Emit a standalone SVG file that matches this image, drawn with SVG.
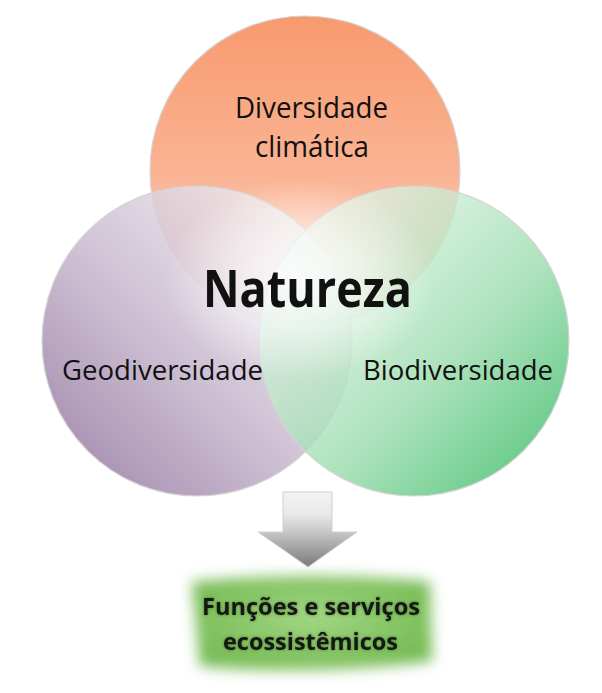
<svg xmlns="http://www.w3.org/2000/svg" width="602" height="693" viewBox="0 0 602 693">
<defs>
<linearGradient id="gTop" x1="0.5" y1="0" x2="0.5" y2="1">
<stop offset="0" stop-color="#F89A6E"/>
<stop offset="0.5" stop-color="#FAB393"/>
<stop offset="1" stop-color="#FCDACB"/>
</linearGradient>
<linearGradient id="gLeft" x1="0.1" y1="0.9" x2="0.85" y2="0.15">
<stop offset="0" stop-color="#9F84AA" stop-opacity="0.92"/>
<stop offset="0.45" stop-color="#C4B4CB" stop-opacity="0.85"/>
<stop offset="1" stop-color="#EEEAEE" stop-opacity="0.85"/>
</linearGradient>
<linearGradient id="gRight" x1="0.9" y1="0.9" x2="0.15" y2="0.15">
<stop offset="0" stop-color="#55C47B" stop-opacity="0.92"/>
<stop offset="0.45" stop-color="#9EDDB0" stop-opacity="0.8"/>
<stop offset="1" stop-color="#E4F5E8" stop-opacity="0.75"/>
</linearGradient>
<radialGradient id="gGlow" cx="0.5" cy="0.5" r="0.5">
<stop offset="0" stop-color="#FFFFFF" stop-opacity="0.85"/>
<stop offset="0.5" stop-color="#FFFFFF" stop-opacity="0.5"/>
<stop offset="1" stop-color="#FFFFFF" stop-opacity="0"/>
</radialGradient>
<linearGradient id="gArrow" x1="0" y1="492" x2="0" y2="567" gradientUnits="userSpaceOnUse">
<stop offset="0" stop-color="#F4F4F4"/>
<stop offset="0.3" stop-color="#E8E8E8"/>
<stop offset="0.55" stop-color="#C4C4C4"/>
<stop offset="1" stop-color="#7A7A7A"/>
</linearGradient>
<radialGradient id="gBox" cx="0.5" cy="0.45" r="0.6">
<stop offset="0" stop-color="#A2D684"/>
<stop offset="1" stop-color="#74BA52"/>
</radialGradient>
<filter id="blur" x="-20%" y="-30%" width="140%" height="160%">
<feGaussianBlur stdDeviation="7"/>
</filter>
<filter id="glow" x="-10%" y="-30%" width="120%" height="160%">
<feGaussianBlur in="SourceAlpha" stdDeviation="1.5" result="b"/>
<feFlood flood-color="#2D5A1A" flood-opacity="0.7"/>
<feComposite in2="b" operator="in" result="s"/>
<feMerge><feMergeNode in="s"/><feMergeNode in="SourceGraphic"/></feMerge>
</filter>
<style>
.c{stroke:#D4D4D4;stroke-width:1.2}
.lbl{font-family:"Open Sans","Noto Sans","DejaVu Sans",sans-serif;fill:#111;text-anchor:middle}
.big{font-weight:bold}
.out{font-family:"Open Sans","Noto Sans","DejaVu Sans",sans-serif;font-weight:bold;fill:#121212;text-anchor:middle;font-size:24px}
</style>
</defs>
<rect width="602" height="693" fill="#FFFFFF"/>
<g id="node-clima">
<circle class="c" cx="305" cy="171" r="155" fill="url(#gTop)"/>
</g>
<g id="node-geo">
<circle class="c" cx="197" cy="341" r="155" fill="url(#gLeft)"/>
</g>
<g id="node-bio">
<circle class="c" cx="414" cy="341" r="155" fill="url(#gRight)"/>
</g>
<g id="node-natureza">
<ellipse cx="300" cy="280" rx="135" ry="100" fill="url(#gGlow)"/>
<text class="lbl big" x="307.5" y="307" font-size="52" textLength="209" lengthAdjust="spacingAndGlyphs">Natureza</text>
</g>
<g id="labels">
<text class="lbl" x="311.5" y="118" font-size="29" textLength="153" lengthAdjust="spacingAndGlyphs">Diversidade</text>
<text class="lbl" x="312" y="157" font-size="29" textLength="114" lengthAdjust="spacingAndGlyphs">climática</text>
<text class="lbl" x="162.5" y="380" font-size="28" textLength="201" lengthAdjust="spacingAndGlyphs">Geodiversidade</text>
<text class="lbl" x="458" y="380" font-size="28" textLength="190" lengthAdjust="spacingAndGlyphs">Biodiversidade</text>
</g>
<g id="connectors">
<polygon points="283,492 332,492 332,532 357,532 308,567 258,532 283,532" fill="url(#gArrow)" stroke="#CFCFCF" stroke-width="1"/>
</g>
<g id="node-funcoes">
<path d="M192,582 Q310,570 430,582 L432,661 Q312,676 200,666 Z" fill="url(#gBox)" filter="url(#blur)"/>
<g filter="url(#glow)">
<text class="out" x="311" y="615" textLength="218" lengthAdjust="spacingAndGlyphs">Funções e serviços</text>
<text class="out" x="310.5" y="650" textLength="175" lengthAdjust="spacingAndGlyphs">ecossistêmicos</text>
</g>
</g>
</svg>
